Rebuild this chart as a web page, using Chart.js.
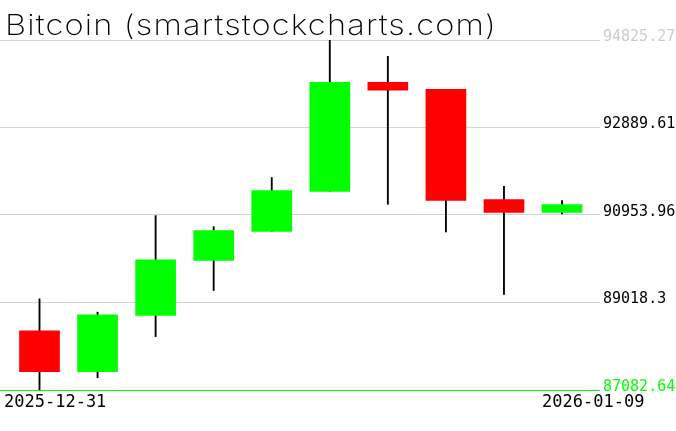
<!DOCTYPE html>
<html lang="en">
<head>
  <meta charset="UTF-8">
  <title>Bitcoin candles</title>
  <script src="https://cdn.jsdelivr.net/npm/chart.js"></script>
  <style>
    html, body { margin: 0; padding: 0; background: #fff; }
    #wrap { width: 676px; height: 431px; position: relative; }
  </style>
</head>
<body>
  <div id="wrap"><canvas id="candles"></canvas></div>

  <script>
    // daily OHLC
    const dates = ['2025-12-31', '2026-01-01', '2026-01-02', '2026-01-03', '2026-01-04',
                   '2026-01-05', '2026-01-06', '2026-01-07', '2026-01-08', '2026-01-09'];
    const opens  = [88390, 87488, 88730, 89949, 90592, 91478, 93888, 93733, 91294, 91013];
    const closes = [87488, 88745, 89964, 90607, 91494, 93888, 93717, 91279, 91013, 91183];
    const highs  = [89100, 88805, 90940, 90696, 91782, 94825.27, 94464, 93733, 91589, 91272];
    const lows   = [87082.64, 87355, 88264, 89284, 90592, 91478, 91190, 90578, 89195, 90977];
    const yTicks = [87082.64, 89018.3, 90953.96, 92889.61, 94825.27];
    const title = 'Bitcoin (smartstockcharts.com)';

    const bodyColors = opens.map((o, i) => closes[i] >= o ? '#00ff00' : '#ff0000');

    // title + first/last date
    const textPlugin = {
      id: 'texts',
      afterDraw(chart) {
        const ctx = chart.ctx;
        const x = chart.scales.x;
        ctx.save();
        ctx.fillStyle = '#000';
        ctx.textBaseline = 'alphabetic';
        ctx.textAlign = 'left';
        ctx.font = '200 28px Inter';
        ctx.letterSpacing = '1px';
        const w = ctx.measureText(title).width;
        // the original title font is wide, so stretch it to end near x=497
        ctx.save();
        ctx.translate(5, 35);
        ctx.scale(492 / w, 1);
        ctx.fillText(title, 0, 0);
        ctx.restore();
        ctx.letterSpacing = '0px';
        ctx.font = '17px "DejaVu Sans Mono"';
        ctx.fillText(dates[0], chart.chartArea.left + 4, 407);
        ctx.fillText(dates[dates.length - 1], x.getPixelForValue(dates.length - 1) - 20, 407);
        ctx.restore();
      }
    };

    new Chart(document.getElementById('candles'), {
      type: 'bar',
      data: {
        datasets: [
          {
            label: 'body',
            data: dates.map((d, i) => ({ x: i, y: [opens[i], closes[i]] })),
            backgroundColor: bodyColors,
            barThickness: 40,
            grouped: false,
            order: 0
          },
          {
            label: 'wick',
            data: dates.map((d, i) => ({ x: i, y: [lows[i], highs[i]] })),
            backgroundColor: '#000',
            barThickness: 1.2,
            grouped: false,
            order: 1
          }
        ]
      },
      options: {
        responsive: true,
        maintainAspectRatio: false,
        animation: false,
        layout: { padding: { top: 40, bottom: 41, left: 0, right: 0 } },
        plugins: { legend: { display: false }, tooltip: { enabled: false } },
        scales: {
          x: {
            type: 'linear',
            display: false,
            offset: false,
            min: -0.6803,
            max: 9.654
          },
          y: {
            position: 'right',
            min: yTicks[0],
            max: yTicks[yTicks.length - 1],
            z: 1,
            afterBuildTicks(scale) { scale.ticks = yTicks.map(v => ({ value: v })); },
            afterFit(scale) { scale.width = 76; },
            border: { display: false },
            grid: {
              drawTicks: false,
              color: ctx => ctx.index === 0 ? '#00ff00' : '#d3d3d3',
              lineWidth: 1
            },
            ticks: {
              padding: 3,
              labelOffset: -3,
              font: { family: 'DejaVu Sans Mono', size: 15 },
              color: ctx => ctx.index === 0 ? '#00ff00' : (ctx.index === yTicks.length - 1 ? '#cccccc' : '#000'),
              callback: (v, i) => String(yTicks[i])
            }
          }
        }
      },
      plugins: [textPlugin]
    });
  </script>
</body>
</html>
